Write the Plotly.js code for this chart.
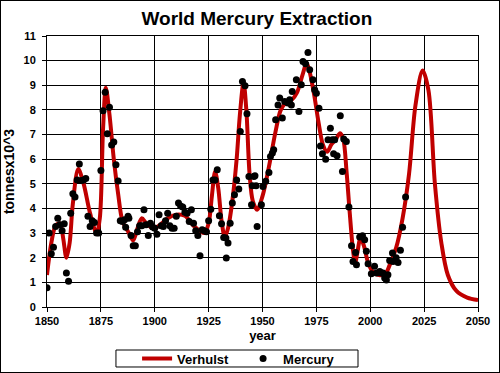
<!DOCTYPE html>
<html>
<head>
<meta charset="utf-8">
<script src="https://cdn.plot.ly/plotly-3.0.1.min.js"></script>
<style>
  html, body { margin: 0; padding: 0; background: #fff; }
  #chart { width: 498px; height: 371px; border: 1px solid #000; }
</style>
</head>
<body>
<div id="chart"></div>
<script>
// Verhulst model curve (key points, smoothed by spline)
const curveYears = [1850,1852,1854,1856,1857.5,1859,1860.5,1862,1864.5,1867,1870,1873,1874.5,1876,1877.3,1879,1881,1883,1885,1888,1890,1892,1894,1896,1899,1902,1906,1910,1914,1918,1923,1925,1926.5,1928,1929.5,1931,1932.5,1934,1936,1938,1939.5,1941.2,1942.5,1944,1945.5,1947.5,1950,1953,1956,1958.5,1961,1963.5,1966,1968.5,1970.5,1972,1974,1976,1978,1980,1982,1984,1986,1987.5,1989,1990.5,1992,1993,1994,1995.5,1997,1999,2001,2004,2007,2009,2012,2015,2018,2021,2024.3,2027,2030,2033,2036,2040,2045,2050];
const curveValues = [1.3,2.6,3.3,3.4,2.8,2.0,2.6,4.2,5.6,5.0,3.8,3.0,3.6,7.2,8.9,7.8,6.0,4.6,3.5,3.0,2.7,3.2,3.6,3.4,3.2,3.3,3.6,3.75,3.7,3.3,3.0,3.4,4.5,5.5,4.8,3.5,2.85,3.2,4.3,6.0,7.8,9.1,8.0,5.4,4.3,3.95,4.5,5.7,7.1,8.0,8.3,8.4,8.7,9.4,9.9,9.5,8.6,7.5,6.6,6.3,6.6,6.8,7.05,6.8,5.5,3.8,2.3,1.8,2.2,2.8,2.5,1.8,1.45,1.3,1.35,1.7,2.4,3.6,5.4,8.2,9.6,8.8,5.0,2.6,1.3,0.65,0.38,0.28];

// Observed mercury extraction (thousand tonnes)
const dataYears = [1850,1851,1852,1853,1854,1855,1856,1857,1858,1859,1860,1861,1862,1863,1864,1865,1866,1867,1868,1869,1870,1871,1872,1873,1874,1875,1876,1877,1878,1879,1880,1881,1882,1883,1884,1885,1886,1886.5,1887.6,1888,1889,1890,1891,1892,1893,1894,1895,1896,1897,1898,1899,1900,1901,1902,1903,1904,1905,1906,1907,1908,1909,1910,1911,1912,1913,1914,1915,1916,1917,1918,1919,1920,1921,1922,1923,1924,1925,1926,1927,1928,1929,1930,1931,1932,1933,1933.2,1934,1935,1936,1937,1938,1939,1939.7,1940.7,1941.9,1942.8,1943.7,1944.9,1945.3,1946,1946.5,1947,1947.5,1949.5,1950.2,1951.5,1953,1953.7,1954.6,1955.2,1956.1,1957.2,1958,1959.2,1960.3,1961.8,1962.6,1963.4,1963.8,1965.7,1966.9,1968,1968.8,1970,1971.1,1971.9,1973.4,1974.2,1975,1976.2,1976.9,1977.8,1979.3,1980.4,1981.5,1982.4,1983,1983.5,1984.6,1986.1,1987.1,1987.7,1988.9,1990.1,1991.3,1992,1993.2,1993.6,1995.1,1996.4,1997.4,1998.2,1999,2000.5,2002,2002.9,2004.4,2005.2,2005.9,2006.7,2007.5,2008.2,2009,2010.3,2010.6,2012,2012.9,2014,2015,2016.4];
const dataValues = [0.78,3.0,2.16,2.43,3.27,3.6,3.34,3.1,3.38,1.38,1.05,3.81,4.6,4.46,5.16,5.8,5.13,5.15,5.22,3.68,3.27,3.5,3.43,3.0,3.0,5.54,7.97,8.72,7.03,8.11,6.58,6.7,5.77,5.11,3.5,3.47,3.54,3.24,3.68,3.6,2.9,2.49,2.49,3.05,3.3,3.3,3.95,3.34,2.9,3.4,3.25,3.2,2.95,3.74,3.3,3.27,3.5,3.81,3.3,3.2,3.2,3.68,4.22,4.1,4.06,3.85,3.81,3.47,3.95,3.4,3.1,2.9,2.08,3.14,3.1,3.05,3.5,3.97,5.16,5.16,5.57,3.7,3.38,2.82,2.8,1.99,2.6,3.4,4.22,4.56,5.16,4.79,7.12,9.15,8.98,7.84,5.3,4.15,4.92,5.3,5.33,4.92,3.27,4.15,4.89,5.1,5.46,6.11,6.25,6.38,7.6,8.2,8.48,7.67,8.34,8.28,8.41,8.2,8.75,9.22,7.94,9.02,9.96,9.87,10.33,9.63,9.22,8.82,8.68,8.07,6.54,6.22,6.0,6.79,7.26,6.79,6.22,6.79,6.14,7.76,5.5,6.82,6.72,4.06,2.49,1.85,2.21,1.72,2.84,2.89,2.73,2.26,1.76,1.35,1.65,1.38,1.44,1.38,1.38,1.18,1.1,1.31,1.89,2.19,1.85,2.0,1.81,2.3,3.24,4.46];

const xTicks = [1850,1875,1900,1925,1950,1975,2000,2025,2050];
const yTicks = [0,1,2,3,4,5,6,7,8,9,10,11];

const FONT = 'Liberation Sans, Arial, sans-serif';

const traces = [
  {
    x: curveYears, y: curveValues, type: 'scatter', mode: 'lines', name: 'Verhulst',
    line: { color: '#C00000', width: 4, shape: 'spline', smoothing: 0.9 },
    hoverinfo: 'x+y'
  },
  {
    x: dataYears, y: dataValues, type: 'scatter', mode: 'markers', name: 'Mercury',
    marker: { color: '#000000', size: 7 },
    hoverinfo: 'x+y'
  }
];

const layout = {
  width: 498, height: 371,
  margin: { l: 46, r: 21, t: 35, b: 65, autoexpand: false },
  paper_bgcolor: '#ffffff', plot_bgcolor: '#ffffff',
  font: { family: FONT, color: '#000', size: 11, weight: 'bold' },
  title: {
    text: 'World Mercury Extraction',
    font: { family: FONT, size: 19, weight: 'bold', color: '#000' },
    x: 0.487, xref: 'paper', xanchor: 'center',
    y: 0.952, yref: 'container', yanchor: 'middle'
  },
  xaxis: {
    range: [1850, 2050], tickvals: xTicks, ticktext: xTicks.map(String),
    showgrid: true, gridcolor: '#000', gridwidth: 1,
    showline: true, linecolor: '#000', linewidth: 1, mirror: true,
    ticks: 'outside', ticklen: 4, tickcolor: '#000',
    tickfont: { family: FONT, size: 11, weight: 'bold' },
    zeroline: false, automargin: false,
    title: { text: 'year', font: { family: FONT, size: 13, weight: 'bold' }, standoff: 4 }
  },
  yaxis: {
    range: [0, 11], tickvals: yTicks, ticktext: yTicks.map(String),
    showgrid: true, gridcolor: '#000', gridwidth: 1,
    showline: true, linecolor: '#000', linewidth: 1, mirror: true,
    ticks: 'outside', ticklen: 4, tickcolor: '#000', ticklabelstandoff: 4,
    tickfont: { family: FONT, size: 11, weight: 'bold' },
    zeroline: false, automargin: false,
    title: { text: 'tonnesx10^3', font: { family: FONT, size: 14, weight: 'bold' }, standoff: 5 }
  },
  showlegend: true,
  legend: {
    orientation: 'h', x: 0.209, xanchor: 'left', y: -0.19, yanchor: 'middle',
    font: { family: FONT, size: 13, weight: 'bold' },
    bgcolor: 'rgba(0,0,0,0)', borderwidth: 0,
    entrywidth: 61, entrywidthmode: 'pixels', tracegroupgap: 0
  },
  shapes: [
    { type: 'rect', xref: 'paper', yref: 'paper', x0: 0.160, x1: 0.7216, y0: -0.1587, y1: -0.2214,
      line: { color: '#000', width: 1 }, fillcolor: 'rgba(0,0,0,0)', layer: 'above' }
  ]
};

Plotly.newPlot('chart', traces, layout, { displayModeBar: false, staticPlot: true });
</script>
</body>
</html>
